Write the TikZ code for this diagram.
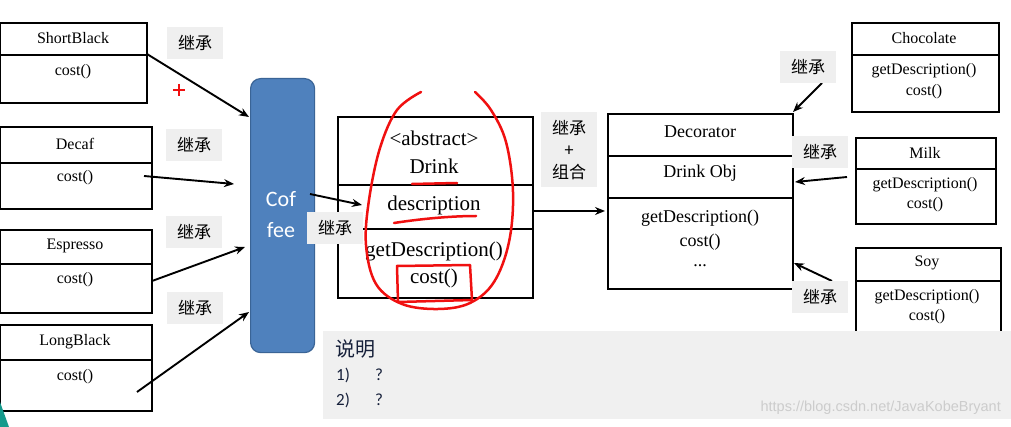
\documentclass[tikz,border=0pt]{standalone}
\usepackage{fontspec}
\setmainfont{Liberation Serif}
\newfontfamily\cjk{Noto Sans CJK SC}
\newfontfamily\calibri{Carlito}
\newfontfamily\arialf{Liberation Sans}
\usetikzlibrary{arrows.meta,calc}
\definecolor{lblgray}{HTML}{EFEFEF}
\definecolor{panelgray}{HTML}{F0F0F0}
\definecolor{cofblue}{HTML}{4F81BD}
\definecolor{cofedge}{HTML}{3A6496}
\definecolor{navytext}{HTML}{16203A}
\definecolor{markred}{HTML}{F01010}
\definecolor{tealc}{HTML}{159A8C}
\tikzset{
  compart/.style={draw, line width=2pt, fill=white, inner sep=0pt, anchor=north west},
  txt/.style={inner sep=0pt, font=\fontsize{16}{18}\selectfont},
  txtm/.style={inner sep=0pt, font=\fontsize{18}{20}\selectfont},
  txtl/.style={inner sep=0pt, font=\fontsize{21}{24}\selectfont},
  lbl/.style={fill=lblgray, inner sep=0pt, minimum width=56pt, minimum height=32pt, font=\cjk\fontsize{17}{22}\selectfont},
  inh/.style={line width=1.9pt, -{Stealth[length=10pt,width=8pt]}},
  redmark/.style={markred, line width=2.5pt, line cap=round, line join=round},
  paneltxt/.style={inner sep=0pt, anchor=west, text=navytext, font=\calibri\fontsize{17}{18}\selectfont},
}
\begin{document}
\begin{tikzpicture}[x=1pt,y=-1pt]
\useasboundingbox (0,0) rectangle (1011,427);
\fill[white] (0,0) rectangle (1011,427);

% ---------- left classes ----------
\node[compart, minimum width=147pt, minimum height=32pt] (sbT) at (-1,22) {};
\node[compart, minimum width=147pt, minimum height=48pt] (sbB) at (-1,54) {};
\node[txt] (sbTt) at (73,38) {ShortBlack};
\node[txt] (sbBt) at (73,72) {cost()};

\node[compart, minimum width=152pt, minimum height=36pt] (dcT) at (-1,126) {};
\node[compart, minimum width=152pt, minimum height=46pt] (dcB) at (-1,162) {};
\node[txt] (dcTt) at (75,144) {Decaf};
\node[txt] (dcBt) at (75,178) {cost()};

\node[compart, minimum width=152pt, minimum height=34pt] (esT) at (-1,229) {};
\node[compart, minimum width=152pt, minimum height=49pt] (esB) at (-1,263) {};
\node[txt] (esTt) at (75,246) {Espresso};
\node[txt] (esBt) at (75,280) {cost()};

\node[compart, minimum width=152pt, minimum height=35pt] (lbT) at (-1,324) {};
\node[compart, minimum width=152pt, minimum height=51pt] (lbB) at (-1,359) {};
\node[txt] (lbTt) at (75,342) {LongBlack};
\node[txt] (lbBt) at (75,377) {cost()};

% ---------- Coffee ----------
\node[draw=cofedge, fill=cofblue, line width=1.2pt, rounded corners=10pt, anchor=north west,
      minimum width=64pt, minimum height=274pt, inner sep=0pt] (cof) at (250,78) {};
\node[text=white, inner sep=0pt, align=center, font=\calibri\fontsize{22}{31}\selectfont] (coft) at (281,215) {Cof\\fee};

% ---------- Drink ----------
\node[compart, minimum width=195pt, minimum height=68pt] (drT) at (337,116) {};
\node[compart, minimum width=195pt, minimum height=44pt] (drM) at (337,184) {};
\node[compart, minimum width=195pt, minimum height=69pt] (drB) at (337,228) {};
\node[txtl] (drT1) at (434,138) {<abstract>};
\node[txtl] (drT2) at (434,166) {Drink};
\node[txtl] (drMt) at (434,205) {description};
\node[txtl] (drB1) at (434,251) {getDescription()};
\node[txtl] (drB2) at (434,278) {cost()};

% ---------- Decorator ----------
\node[compart, minimum width=185pt, minimum height=42pt] (deT) at (607,113) {};
\node[compart, minimum width=185pt, minimum height=42pt] (deM) at (607,155) {};
\node[compart, minimum width=185pt, minimum height=91pt] (deB) at (607,197) {};
\node[txtm] (deTt) at (700,132) {Decorator};
\node[txtm] (deMt) at (700,173) {Drink Obj};
\node[txtm] (deB1) at (700,218) {getDescription()};
\node[txtm] (deB2) at (700,242) {cost()};
\node[txtm] (deB3) at (700,266) {...};

% ---------- right classes ----------
\node[compart, minimum width=147pt, minimum height=32pt] (chT) at (851,22) {};
\node[compart, minimum width=147pt, minimum height=57pt] (chB) at (851,54) {};
\node[txt] (chTt) at (924,38) {Chocolate};
\node[txt] (chB1) at (924,71) {getDescription()};
\node[txt] (chB2) at (924,92) {cost()};

\node[compart, minimum width=140pt, minimum height=31pt] (mkT) at (855,137) {};
\node[compart, minimum width=140pt, minimum height=55pt] (mkB) at (855,168) {};
\node[txt] (mkTt) at (925,153) {Milk};
\node[txt] (mkB1) at (925,185) {getDescription()};
\node[txt] (mkB2) at (925,205) {cost()};

\node[compart, minimum width=145pt, minimum height=33pt] (syT) at (855,247) {};
\node[compart, minimum width=145pt, minimum height=60pt] (syB) at (855,280) {};
\node[txt] (syTt) at (927,263) {Soy};
\node[txt] (syB1) at (927,297) {getDescription()};
\node[txt] (syB2) at (927,317) {cost()};

% ---------- arrow end points ----------
\coordinate (a1s) at (147,54);  \coordinate (a1e) at (249,117);
\coordinate (a2s) at (144,176); \coordinate (a2e) at (234,184);
\coordinate (a3s) at (152,281); \coordinate (a3e) at (245,247);
\coordinate (a4s) at (137,392); \coordinate (a4e) at (249,312);
\coordinate (a5s) at (310,194); \coordinate (a5e) at (362,205);
\coordinate (a6s) at (532,211); \coordinate (a6e) at (605,211);
\coordinate (a7s) at (822,83);  \coordinate (a7e) at (793,112);
\coordinate (a8s) at (847,177); \coordinate (a8e) at (795,182);
\coordinate (a9s) at (832,281); \coordinate (a9e) at (794,263);

\draw[inh] (a1s) -- (a1e);
\draw[inh] (a2s) -- (a2e);
\draw[inh] (a3s) -- (a3e);
\draw[inh] (a4s) -- (a4e);
\draw[inh] (a5s) -- (a5e);
\draw[inh] (a6s) -- (a6e);
\draw[inh] (a7s) -- (a7e);
\draw[inh] (a8s) -- (a8e);
\draw[inh] (a9s) -- (a9e);

% ---------- labels ----------
\node[lbl] (l1) at (195,43) {继承};
\node[lbl] (l2) at (194,145) {继承};
\node[lbl] (l3) at (194,232) {继承};
\node[lbl] (l4) at (195,308) {继承};
\node[lbl] (l5) at (335,228) {继承};
\node[lbl, minimum height=75pt, align=center, font=\cjk\fontsize{17}{22}\selectfont] (l6) at (569,150) {继承\\+\\组合};
\node[lbl] (l7) at (808,67) {继承};
\node[lbl] (l8) at (820,152) {继承};
\node[lbl] (l9) at (820,297) {继承};

% red plus
\draw[markred, line width=1.8pt] (173,90) -- (185,90) (179,84) -- (179,96);

% ---------- red annotations ----------
\draw[redmark] plot[smooth, tension=0.6] coordinates {
  (421,92) (397,110) (380,148) (369,200) (366,245) (376,284) (402,304) (438,309)
  (470,303) (494,282) (509,242) (513,192) (506,142) (491,110) (475,92)};
\draw[redmark] (412,184) -- (457,183);
\draw[redmark] (394,223) .. controls (420,219) and (450,216) .. (476,216);
\draw[redmark] (397,266) -- (470,265) -- (472,300) -- (398,302) -- cycle;

% ---------- bottom panel ----------
\fill[panelgray] (323,331) rectangle (1011,419);
\node[inner sep=0pt, anchor=west, text=navytext, font=\cjk\fontsize{20}{22}\selectfont] (sm) at (335,349) {说明};
\node[paneltxt] (n1) at (336,375) {1)};
\node[paneltxt] (q1) at (375,375) {?};
\node[paneltxt] (n2) at (336,400) {2)};
\node[paneltxt] (q2) at (375,400) {?};
\node[inner sep=0pt, anchor=east, text=black!20, font=\arialf\fontsize{14.5}{16}\selectfont] (wm) at (1001,408) {https://blog.csdn.net/JavaKobeBryant};

% teal corner
\fill[tealc] (0,402) -- (9,427) -- (0,427) -- cycle;
\end{tikzpicture}
\end{document}
